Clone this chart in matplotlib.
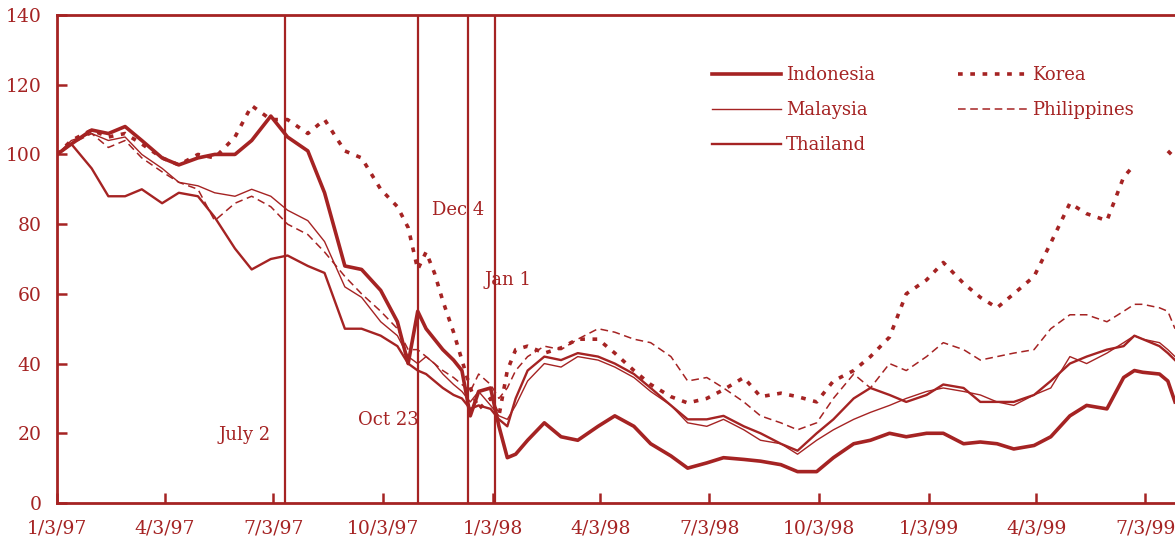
#!/usr/bin/env python3
"""
Asian stock markets in dollar terms (1/3/97 = 100), Jan 1997 - Jul 1999,
with vertical markers for the main crisis dates.
"""

import numpy as np
import pandas as pd
import matplotlib
matplotlib.use("Agg")
import matplotlib.pyplot as plt

RED = "#a52323"
FONT = "DejaVu Serif"

# shared observation dates (roughly semi-monthly, denser in the late-1997 crash)
dates = [
    "1997-01-03", "1997-01-15", "1997-02-01", "1997-02-15", "1997-03-01", "1997-03-15",
    "1997-04-01", "1997-04-15", "1997-05-01", "1997-05-15", "1997-06-01", "1997-06-15",
    "1997-07-01", "1997-07-15", "1997-08-01", "1997-08-15", "1997-09-01", "1997-09-15",
    "1997-10-01", "1997-10-15", "1997-10-24", "1997-11-01", "1997-11-08", "1997-11-15",
    "1997-11-22", "1997-12-01", "1997-12-08", "1997-12-15", "1997-12-22",
    "1998-01-01", "1998-01-08", "1998-01-15", "1998-01-22", "1998-02-01", "1998-02-15",
    "1998-03-01", "1998-03-15", "1998-04-01", "1998-04-15", "1998-05-01", "1998-05-15",
    "1998-06-01", "1998-06-15", "1998-07-01", "1998-07-15", "1998-08-01", "1998-08-15",
    "1998-09-01", "1998-09-15", "1998-10-01", "1998-10-15", "1998-11-01", "1998-11-15",
    "1998-12-01", "1998-12-15",
    "1999-01-01", "1999-01-15", "1999-02-01", "1999-02-15", "1999-03-01", "1999-03-15",
    "1999-04-01", "1999-04-15", "1999-05-01", "1999-05-15", "1999-06-01", "1999-06-15",
    "1999-06-24", "1999-07-01", "1999-07-15", "1999-07-22", "1999-07-28",
]

indonesia = [
    100, 103, 107, 106, 108, 104, 99, 97, 99, 100, 100, 104,
    111, 105, 101, 89, 68, 67, 61, 52, 40, 55, 50, 47,
    44, 41, 38, 25, 32,
    33, 22, 13, 14, 18, 23, 19, 18, 22, 25, 22, 17,
    13.5, 10, 11.5, 13, 12.5, 12, 11, 9, 9, 13, 17, 18,
    20, 19,
    20, 20, 17, 17.5, 17, 15.5, 16.5, 19, 25, 28, 27, 36,
    38, 37.5, 37, 35, 29,
]

korea = [
    100, 104, 107, 105, 106, 103, 99, 97, 100, 99, 105, 114,
    110, 110, 106, 110, 101, 99, 90, 85, 79, 67, 72, 66,
    58, 49, 41, 33, 27,
    30, 25, 38, 44, 45, 43, 44.5, 47, 47, 43, 38, 34,
    30.5, 28.7, 30, 32.5, 36, 30.5, 31.5, 30.5, 29, 35, 38, 42,
    47.6, 60,
    64, 69, 63, 59, 56, 60, 65, 74.6, 86, 83, 81, 93.5,
    97, np.nan, np.nan, 101, 99,
]

malaysia = [
    100, 104, 106, 104, 105, 100, 96, 92, 91, 89, 88, 90,
    88, 84, 81, 75, 62, 59, 52, 48, 42, 40, 42, 40,
    37, 34, 32, 29, 32,
    28, 25, 24, 28, 35, 40, 39, 42, 41, 39, 36, 32,
    28, 23, 22, 24, 21, 18, 17, 14, 18, 21, 24, 26,
    28, 30,
    32, 33, 32, 31, 29, 28, 31, 33, 42, 40, 43, 46,
    48, 47, 46, 44, 42,
]

philippines = [
    100, 103, 106, 102, 104, 99, 95, 92, 90, 81, 86, 88,
    85, 80, 77, 72, 65, 60, 55, 50, 44, 44, 42, 40,
    38, 36, 34, 32, 37,
    34, 30, 33, 38, 42, 45, 44, 47, 50, 49, 47, 46,
    42, 35, 36, 33, 29, 25, 23, 21, 23, 30, 37, 33,
    40, 38,
    42, 46, 44, 41, 42, 43, 44, 50, 54, 54, 52, 55,
    57, 57, 56, 55, 50,
]

thailand = [
    100, 103, 96, 88, 88, 90, 86, 89, 88, 82, 73, 67,
    70, 71, 68, 66, 50, 50, 48, 45, 40, 38, 37, 35,
    33, 31, 30, 27, 28,
    27, 24, 22, 30, 38, 42, 41, 43, 42, 40, 37, 33,
    28, 24, 24, 25, 22, 20, 17, 15, 20, 24, 30, 33,
    31, 29,
    31, 34, 33, 29, 29, 29, 31, 35, 40, 42, 44, 45,
    48, 47, 45, 43, 41,
]

# crisis markers: label text and where the vertical rule sits on the chart
event_labels = ["July 2", "Oct 23", "Dec 4", "Jan 1"]
event_line_dates = ["1997-07-13", "1997-11-01", "1997-12-13", "1998-01-05"]
event_label_y = [19.5, 23.8, 84, 64]

tick_dates = [
    "1997-01-03", "1997-04-03", "1997-07-03", "1997-10-03", "1998-01-03",
    "1998-04-03", "1998-07-03", "1998-10-03", "1999-01-03", "1999-04-03", "1999-07-03",
]
tick_labels = [
    "1/3/97", "4/3/97", "7/3/97", "10/3/97", "1/3/98",
    "4/3/98", "7/3/98", "10/3/98", "1/3/99", "4/3/99", "7/3/99",
]


def main():
    x = pd.to_datetime(dates)

    fig = plt.figure(figsize=(11.75, 5.49), dpi=100)
    ax = fig.add_axes([57 / 1175, 46 / 549, 1 - 57 / 1175, 488 / 549])

    h_ind, = ax.plot(x, indonesia, color=RED, lw=2.6, label="Indonesia")
    h_mal, = ax.plot(x, malaysia, color=RED, lw=1.0, label="Malaysia")
    h_tha, = ax.plot(x, thailand, color=RED, lw=1.7, label="Thailand")
    h_kor, = ax.plot(x, korea, color=RED, lw=2.6, linestyle=(0, (1.3, 2.1)), label="Korea")
    h_phi, = ax.plot(x, philippines, color=RED, lw=1.1, linestyle=(0, (5, 3)), label="Philippines")

    # vertical event rules + labels (offsets in pixels from the rule)
    offsets = [(-15, "right"), (1, "right"), (-36, "left"), (-11, "left")]
    for lab, d, yv, (dx, ha) in zip(event_labels, event_line_dates, event_label_y, offsets):
        xd = pd.Timestamp(d)
        ax.axvline(xd, color=RED, lw=1.6)
        ax.annotate(lab, xy=(xd, yv), xytext=(dx * 0.72, 0), textcoords="offset points",
                    ha=ha, va="center", color=RED, fontsize=13, family=FONT)

    ax.set_ylim(0, 140)
    ax.set_yticks(range(0, 141, 20))
    ax.set_xlim(pd.Timestamp("1997-01-03"), pd.Timestamp("1999-07-28"))
    ax.set_xticks(pd.to_datetime(tick_dates))
    ax.set_xticklabels(tick_labels)

    for side in ["left", "bottom", "top"]:
        ax.spines[side].set_color(RED)
        ax.spines[side].set_linewidth(2.0)
    ax.spines["right"].set_visible(False)

    ax.tick_params(axis="both", direction="in", length=7, width=1.8, color=RED,
                   labelcolor=RED, labelsize=13.5)
    ax.tick_params(axis="x", pad=12)
    ax.tick_params(axis="y", pad=11)
    for lbl in ax.get_xticklabels() + ax.get_yticklabels():
        lbl.set_family(FONT)

    leg = ax.legend(handles=[h_ind, h_mal, h_tha, h_kor, h_phi], ncol=2, frameon=False,
                    loc="upper left", bbox_to_anchor=(712 / 1175, 1 - 66 / 549),
                    bbox_transform=fig.transFigure, borderpad=0, borderaxespad=0,
                    handlelength=3.8, handletextpad=0.3, columnspacing=4.6,
                    labelspacing=0.95, prop={"family": FONT, "size": 13})
    for t in leg.get_texts():
        t.set_color(RED)

    fig.savefig("out.png", dpi=100)
    plt.close(fig)


if __name__ == "__main__":
    main()
